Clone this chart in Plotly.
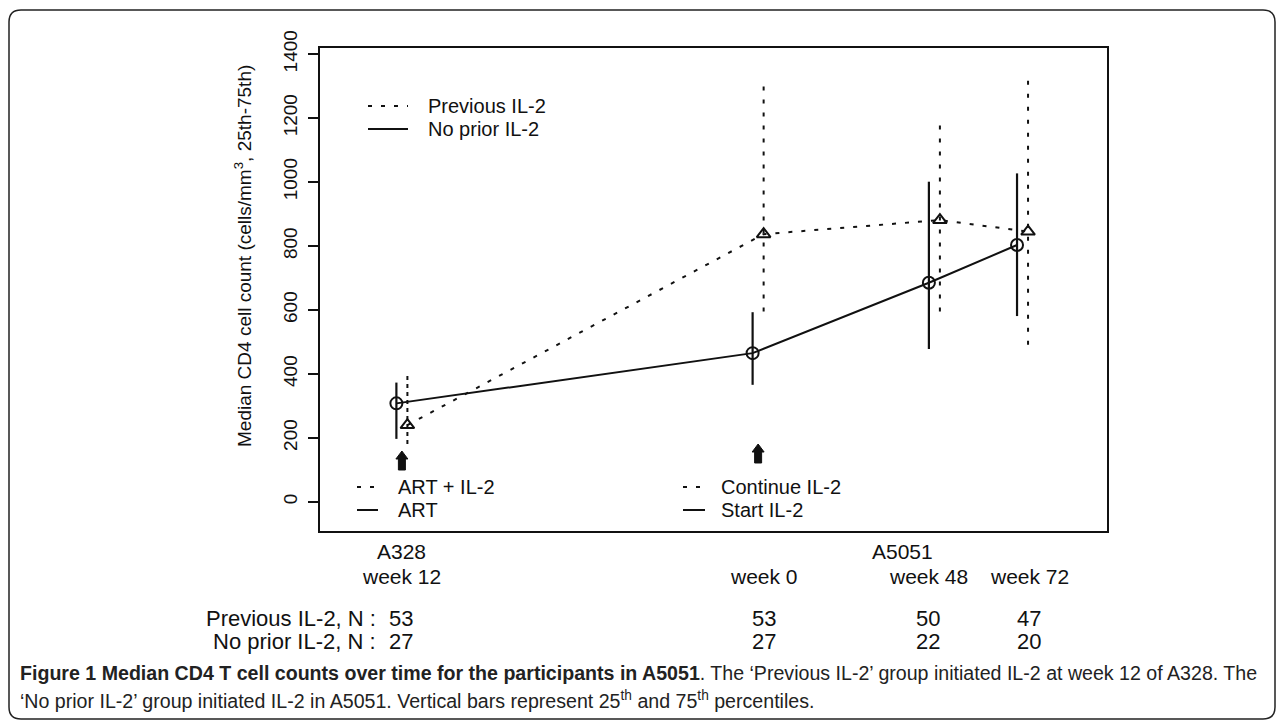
import plotly.graph_objects as go

# ---------------- data ----------------
weeks = [-97, 0, 48, 72]                      # time position (weeks, A328 wk12 ~ -97)
week_labels = ["week 12", "week 0", "week 48", "week 72"]
study_labels = ["A328", "A5051"]

prev_median = [240, 837, 881, 845]
prev_q1 = [181, 595, 595, 491]
prev_q3 = [400, 1310, 1188, 1340]

noprior_median = [308, 465, 685, 803]
noprior_q1 = [197, 366, 478, 581]
noprior_q3 = [373, 593, 1001, 1027]

n_prev = [53, 53, 50, 47]
n_noprior = [27, 27, 22, 20]

# ---------------- geometry helpers ----------------
W, H = 1284, 728
L, R, T, B = 320, 1107, 48, 531
X0, X1 = -119.3, 95.0
Y0, Y1 = -91, 1419
JIT = 1.5

def pxp(px):
    return (px - L) / (R - L)

def pyp(py):
    return (B - py) / (B - T)

def x2px(x):
    return L + (x - X0) / (X1 - X0) * (R - L)

FONT = "Liberation Sans, Arial, Helvetica, sans-serif"
FS = 19
FS_LEG = 20
FS_BOT = 21
FS_N = 22
BLACK = "#111111"
DOT = "4px,9px"

fig = go.Figure()

# vertical percentile bars
for i, w in enumerate(weeks):
    fig.add_trace(go.Scatter(
        x=[w + JIT, w + JIT], y=[prev_q1[i], prev_q3[i]], mode="lines",
        line=dict(color=BLACK, width=2, dash="4px,4px" if i == 0 else DOT),
        showlegend=False, hoverinfo="skip"))
    fig.add_trace(go.Scatter(
        x=[w - JIT, w - JIT], y=[noprior_q1[i], noprior_q3[i]], mode="lines",
        line=dict(color=BLACK, width=2.2),
        showlegend=False, hoverinfo="skip"))

# median lines
fig.add_trace(go.Scatter(
    x=[w + JIT for w in weeks], y=prev_median, mode="lines+markers",
    name="Previous IL-2",
    line=dict(color=BLACK, width=2, dash=DOT),
    marker=dict(symbol="triangle-up-open", size=12, color=BLACK,
                line=dict(width=2, color=BLACK)),
    showlegend=False))
fig.add_trace(go.Scatter(
    x=[w - JIT for w in weeks], y=noprior_median, mode="lines+markers",
    name="No prior IL-2",
    line=dict(color=BLACK, width=2),
    marker=dict(symbol="circle-open", size=12, color=BLACK,
                line=dict(width=2, color=BLACK)),
    showlegend=False))

shapes = []
annotations = []

def text(px, py, s, xanchor="center", size=FS, **kw):
    annotations.append(dict(xref="paper", yref="paper", x=pxp(px), y=pyp(py),
                            text=s, showarrow=False, xanchor=xanchor,
                            yanchor="middle", font=dict(size=size, color=BLACK), **kw))

def legend_item(x0, x1, y, s, dash, tx):
    shapes.append(dict(type="line", xref="paper", yref="paper",
                       x0=pxp(x0), x1=pxp(x1), y0=pyp(y), y1=pyp(y),
                       line=dict(color=BLACK, width=2, dash=dash)))
    text(tx, y, s, xanchor="left", size=FS_LEG)

legend_item(368, 408, 106, "Previous IL-2", DOT, 426)
legend_item(368, 408, 129, "No prior IL-2", "solid", 426)
legend_item(357, 378, 487, "ART + IL-2", DOT, 396)
legend_item(357, 378, 510, "ART", "solid", 396)
legend_item(683, 705, 487, "Continue IL-2", DOT, 719)
legend_item(683, 705, 510, "Start IL-2", "solid", 719)

# up arrows marking IL-2 start
def arrow(cx, ytop):
    pts = [(cx - 6, ytop + 8), (cx, ytop), (cx + 6, ytop + 8),
           (cx + 3.5, ytop + 8), (cx + 3.5, ytop + 19), (cx - 3.5, ytop + 19),
           (cx - 3.5, ytop + 8)]
    path = "M " + " L ".join(f"{pxp(a):.5f},{pyp(b):.5f}" for a, b in pts) + " Z"
    shapes.append(dict(type="path", xref="paper", yref="paper", path=path,
                       fillcolor=BLACK, line=dict(color=BLACK, width=1)))

arrow(x2px(weeks[0]), 451)
arrow(x2px(weeks[1]), 444)

# outer rounded frame
fx0, fy0, fx1, fy1, rr = 9, 10, 1275, 719, 12
def P(a, b):
    return f"{pxp(a):.5f},{pyp(b):.5f}"
frame = (f"M {P(fx0 + rr, fy0)} L {P(fx1 - rr, fy0)} Q {P(fx1, fy0)} {P(fx1, fy0 + rr)} "
         f"L {P(fx1, fy1 - rr)} Q {P(fx1, fy1)} {P(fx1 - rr, fy1)} "
         f"L {P(fx0 + rr, fy1)} Q {P(fx0, fy1)} {P(fx0, fy1 - rr)} "
         f"L {P(fx0, fy0 + rr)} Q {P(fx0, fy0)} {P(fx0 + rr, fy0)} Z")
shapes.append(dict(type="path", xref="paper", yref="paper", path=frame,
                   line=dict(color="#222222", width=1.5), layer="below"))

# y axis title
text(243, 256, "Median CD4 cell count (cells/mm<sup>3</sup>, 25th-75th)", textangle=-90)

# time labels below the plot
col_px = [401, 764, 928, 1029]
text(col_px[0], 551, study_labels[0], size=FS_BOT)
text(902, 551, study_labels[1], size=FS_BOT)
for i, lab in enumerate(week_labels):
    text(col_px[i], 576, lab, size=FS_BOT)

# N rows
text(378, 618, "Previous IL-2, N :", xanchor="right", size=FS_N)
text(378, 641, "No prior IL-2, N :", xanchor="right", size=FS_N)
for i in range(4):
    text(col_px[i], 618, str(n_prev[i]), size=FS_N)
    text(col_px[i], 641, str(n_noprior[i]), size=FS_N)

# caption
CAPF = "Liberation Sans Narrow, Arial Narrow, Liberation Sans, sans-serif"
annotations.append(dict(
    xref="paper", yref="paper", x=pxp(18), y=pyp(673), xanchor="left", yanchor="middle",
    text=("<b>Figure 1 Median CD4 T cell counts over time for the participants in A5051</b>. "
          "The ‘Previous IL-2’ group initiated IL-2 at week 12 of A328. The"),
    showarrow=False, font=dict(size=19.6, color="#222222", family=CAPF)))
annotations.append(dict(
    xref="paper", yref="paper", x=pxp(18), y=pyp(700), xanchor="left", yanchor="middle",
    text=("‘No prior IL-2’ group initiated IL-2 in A5051. Vertical bars represent "
          "25<sup>th</sup> and 75<sup>th</sup> percentiles."),
    showarrow=False, font=dict(size=19.6, color="#222222", family=CAPF)))

fig.update_layout(
    width=W, height=H,
    margin=dict(l=L, r=W - R, t=T, b=H - B),
    paper_bgcolor="white", plot_bgcolor="white",
    font=dict(family=FONT, size=FS, color=BLACK),
    shapes=shapes, annotations=annotations,
    xaxis=dict(range=[X0, X1], showgrid=False, zeroline=False,
               showticklabels=False, ticks="", showline=True, mirror=True,
               linecolor=BLACK, linewidth=1.6),
    yaxis=dict(range=[Y0, Y1], tickvals=list(range(0, 1401, 200)),
               ticks="outside", ticklen=10, tickwidth=1.6, tickcolor=BLACK,
               tickangle=-90, tickfont=dict(size=FS, color=BLACK),
               ticklabelstandoff=4,
               showgrid=False, zeroline=False, showline=True, mirror=True,
               linecolor=BLACK, linewidth=1.6),
)

fig.write_html("out.html", config={"displayModeBar": False},
               post_script="document.body.style.margin='0';document.body.style.padding='0';")
